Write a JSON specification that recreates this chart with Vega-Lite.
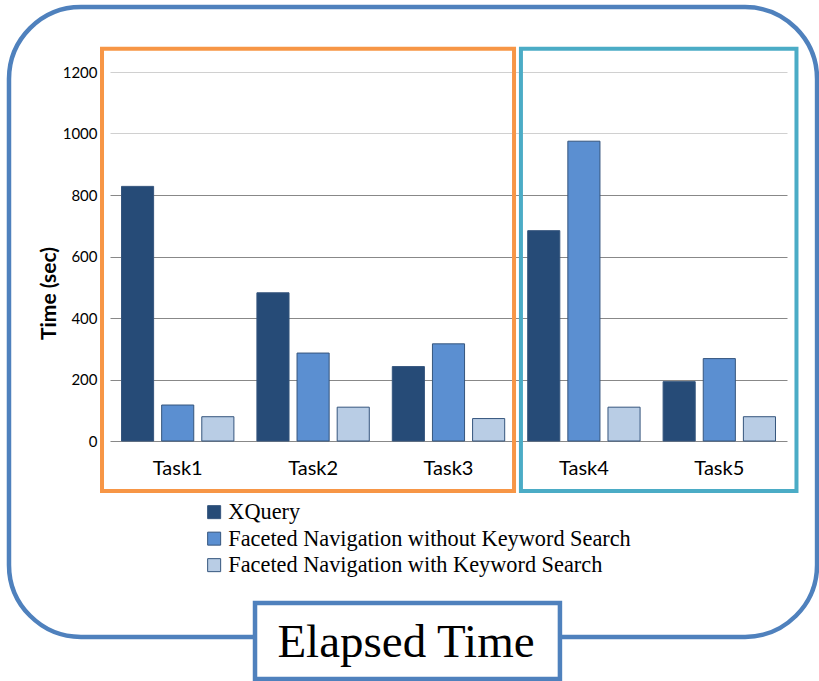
{
  "$schema": "https://vega.github.io/schema/vega-lite/v6.json",
  "width": 677,
  "height": 369,
  "autosize": "none",
  "padding": {"left": 110, "top": 72, "right": 32, "bottom": 240},
  "background": "white",
  "config": {"view": {"stroke": null}},
  "layer": [
    {
      "data": {"values": [{}]},
      "mark": {"type": "rect", "filled": false, "stroke": "#4f81bd", "strokeWidth": 4.5, "cornerRadius": 72},
      "encoding": {
        "x": {"datum": -0.746, "type": "quantitative", "scale": {"domain": [0, 5], "nice": false, "zero": false}, "axis": null},
        "x2": {"datum": 5.222},
        "y": {"datum": 1411, "type": "quantitative", "scale": {"domain": [0, 1200], "nice": false}, "axis": null},
        "y2": {"datum": -637}
      }
    },
    {
      "data": {"values": [{}]},
      "mark": {"type": "rect", "filled": false, "stroke": "#f79646", "strokeWidth": 4},
      "encoding": {
        "x": {"datum": -0.059, "type": "quantitative", "scale": {"domain": [0, 5], "nice": false, "zero": false}, "axis": null},
        "x2": {"datum": 2.984},
        "y": {"datum": 1276, "type": "quantitative", "scale": {"domain": [0, 1200], "nice": false}, "axis": null},
        "y2": {"datum": -163}
      }
    },
    {
      "data": {"values": [{}]},
      "mark": {"type": "rect", "filled": false, "stroke": "#4bacc6", "strokeWidth": 4},
      "encoding": {
        "x": {"datum": 3.035, "type": "quantitative", "scale": {"domain": [0, 5], "nice": false, "zero": false}, "axis": null},
        "x2": {"datum": 5.07},
        "y": {"datum": 1276, "type": "quantitative", "scale": {"domain": [0, 1200], "nice": false}, "axis": null},
        "y2": {"datum": -163}
      }
    },
    {
      "data": {
        "values": [
          {"task": "Task1", "series": "XQuery", "time": 828},
          {"task": "Task1", "series": "Faceted Navigation without Keyword Search", "time": 117},
          {"task": "Task1", "series": "Faceted Navigation with Keyword Search", "time": 79},
          {"task": "Task2", "series": "XQuery", "time": 482},
          {"task": "Task2", "series": "Faceted Navigation without Keyword Search", "time": 286},
          {"task": "Task2", "series": "Faceted Navigation with Keyword Search", "time": 110},
          {"task": "Task3", "series": "XQuery", "time": 242},
          {"task": "Task3", "series": "Faceted Navigation without Keyword Search", "time": 316},
          {"task": "Task3", "series": "Faceted Navigation with Keyword Search", "time": 73},
          {"task": "Task4", "series": "XQuery", "time": 684},
          {"task": "Task4", "series": "Faceted Navigation without Keyword Search", "time": 975},
          {"task": "Task4", "series": "Faceted Navigation with Keyword Search", "time": 110},
          {"task": "Task5", "series": "XQuery", "time": 193},
          {"task": "Task5", "series": "Faceted Navigation without Keyword Search", "time": 268},
          {"task": "Task5", "series": "Faceted Navigation with Keyword Search", "time": 79}
        ]
      },
      "mark": {"type": "bar", "stroke": "#35557d", "strokeWidth": 1},
      "encoding": {
        "x": {
          "field": "task", "type": "nominal",
          "scale": {"paddingInner": 0.17, "paddingOuter": 0.085},
          "axis": {"title": null, "labelAngle": 0, "domain": false, "ticks": false, "grid": false, "labelFont": "Lato", "labelFontSize": 20, "labelColor": "#000000", "labelPadding": 17}
        },
        "xOffset": {
          "field": "series", "type": "nominal",
          "sort": ["XQuery", "Faceted Navigation without Keyword Search", "Faceted Navigation with Keyword Search"],
          "scale": {"paddingInner": 0.2, "paddingOuter": 0}
        },
        "y": {
          "field": "time", "type": "quantitative",
          "scale": {"domain": [0, 1200], "nice": false},
          "axis": {
            "title": "Time (sec)", "values": [0, 200, 400, 600, 800, 1000, 1200], "format": "d",
            "orient": "left", "domain": false, "ticks": false,
            "labelFont": "Lato", "labelFontSize": 15, "labelColor": "#000000", "labelPadding": 13,
            "titleFont": "Lato", "titleFontSize": 21, "titleFontWeight": "bold", "titleColor": "#000000", "titlePadding": 3,
            "titleY": 221, "titleAlign": "center", "titleBaseline": "bottom",
            "grid": true,
            "gridColor": {"condition": {"test": "datum.value >= 1000", "value": "#d0d0d0"}, "value": "#888888"},
            "gridWidth": 1
          }
        },
        "color": {
          "field": "series", "type": "nominal",
          "scale": {
            "domain": ["XQuery", "Faceted Navigation without Keyword Search", "Faceted Navigation with Keyword Search"],
            "range": ["#264b77", "#5b8fd1", "#b9cde5"]
          },
          "legend": {
            "orient": "none", "legendX": 93, "legendY": 429, "title": null, "padding": 0,
            "labelFont": "Liberation Serif", "labelFontSize": 22.3, "labelColor": "#000000", "labelLimit": 0,
            "symbolType": "square", "symbolSize": 169, "symbolStrokeColor": "#35557d", "symbolStrokeWidth": 1,
            "labelOffset": 3, "rowPadding": 3.5
          }
        }
      }
    },
    {
      "data": {"values": [{}]},
      "mark": {"type": "rect", "fill": "white", "stroke": "#4f81bd", "strokeWidth": 4.5},
      "encoding": {
        "x": {"datum": 1.071, "type": "quantitative", "scale": {"domain": [0, 5], "nice": false, "zero": false}, "axis": null},
        "x2": {"datum": 3.323},
        "y": {"datum": -527, "type": "quantitative", "scale": {"domain": [0, 1200], "nice": false}, "axis": null},
        "y2": {"datum": -774}
      }
    },
    {
      "data": {"values": [{}]},
      "mark": {"type": "text", "text": "Elapsed Time", "font": "Liberation Serif", "fontSize": 47, "align": "center", "baseline": "alphabetic", "color": "#000000"},
      "encoding": {
        "x": {"datum": 2.186, "type": "quantitative", "scale": {"domain": [0, 5], "nice": false, "zero": false}, "axis": null},
        "y": {"datum": -702, "type": "quantitative", "scale": {"domain": [0, 1200], "nice": false}, "axis": null}
      }
    }
  ],
  "resolve": {"scale": {"x": "independent", "y": "independent"}}
}
